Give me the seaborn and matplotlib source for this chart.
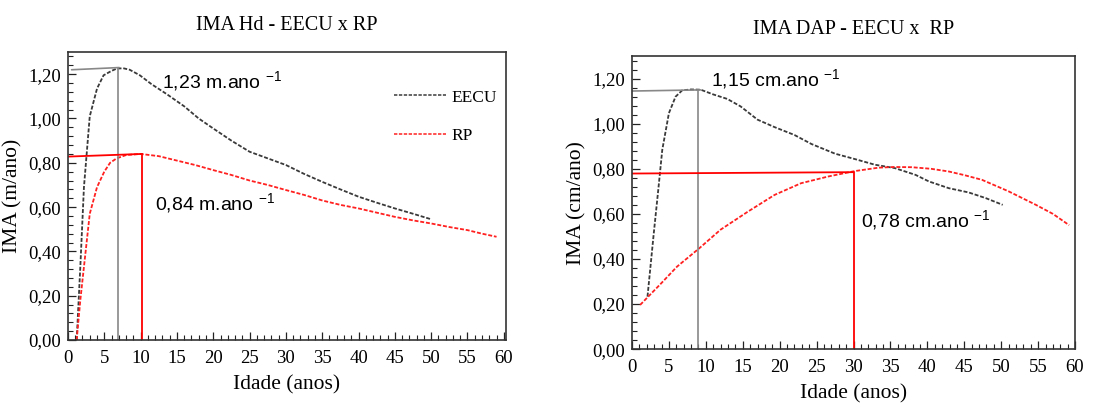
import numpy as np
import pandas as pd
import seaborn as sns
import matplotlib.pyplot as plt
from matplotlib.ticker import MultipleLocator, FixedLocator

# ---- data ----
hd_eecu_age = [1.2, 1.7, 2.2, 3.0, 4.0, 4.9, 6.0, 6.7, 7.6, 8.5, 9.9, 11.5, 13.6, 16, 18, 20, 22.5, 25, 27.5,
               30, 32.5, 35, 37.5, 40, 42.5, 45, 47.5, 50]
hd_eecu_ima = [0.00, 0.33, 0.69, 1.01, 1.135, 1.195, 1.215, 1.225, 1.227, 1.22, 1.195, 1.155, 1.11, 1.055, 1.0,
               0.955, 0.90, 0.85, 0.82, 0.79, 0.75, 0.714, 0.68, 0.647, 0.62, 0.594, 0.57, 0.545]
hd_rp_age = [1.2, 1.7, 2.2, 3.0, 4.0, 5.0, 5.8, 6.7, 8.0, 10.0, 12.5, 15, 17.5, 20, 22.5, 25, 27.5, 30, 32.5,
             35, 37.5, 40, 42.5, 45, 47.5, 50, 52.5, 55, 57, 59]
hd_rp_ima = [0.00, 0.18, 0.33, 0.57, 0.69, 0.76, 0.80, 0.82, 0.835, 0.84, 0.83, 0.81, 0.79, 0.767, 0.745, 0.72,
             0.70, 0.677, 0.655, 0.63, 0.61, 0.594, 0.575, 0.556, 0.54, 0.526, 0.51, 0.496, 0.48, 0.466]

dap_eecu_age = [2.1, 2.95, 3.6, 4.1, 5.0, 5.9, 6.8, 8.0, 9.3, 11.0, 12.9, 14.7, 17.0, 19.3, 22.0, 24.3, 27.5,
                30.2, 32.9, 35.6, 38.4, 40.2, 42.9, 45.6, 47.9, 50.2]
dap_eecu_ima = [0.233, 0.514, 0.72, 0.884, 1.047, 1.12, 1.148, 1.152, 1.151, 1.13, 1.11, 1.077, 1.018, 0.985,
                0.95, 0.91, 0.867, 0.843, 0.818, 0.803, 0.773, 0.744, 0.714, 0.695, 0.67, 0.64]
dap_rp_age = [1.1, 3.9, 6.1, 9.1, 12.0, 15.7, 19.3, 22.9, 26.6, 30.2, 33.4, 35.5, 37.9, 40.5, 42.9, 45.0, 47.4,
              51.0, 54.7, 57.0, 59.2]
dap_rp_ima = [0.196, 0.29, 0.366, 0.447, 0.53, 0.61, 0.684, 0.736, 0.766, 0.79, 0.805, 0.808, 0.807, 0.80, 0.788,
              0.772, 0.751, 0.70, 0.64, 0.60, 0.55]

# reference lines (maximum IMA)
hd_eecu_max = (6.85, 1.23)
hd_rp_max = (10.2, 0.84)
dap_eecu_max = (9.0, 1.15)
dap_rp_max = (30.0, 0.785)

titles = ["IMA Hd - EECU x RP", "IMA DAP - EECU x  RP"]
ylabels = ["IMA (m/ano)", "IMA (cm/ano)"]
xticks = [0, 5, 10, 15, 20, 25, 30, 35, 40, 45, 50, 55, 60]
yticks = [0.0, 0.2, 0.4, 0.6, 0.8, 1.0, 1.2]

sns.set_theme(style="ticks")
plt.rcParams['font.family'] = ['Liberation Serif', 'DejaVu Serif']
plt.rcParams['mathtext.fontset'] = 'custom'
plt.rcParams['mathtext.rm'] = 'Liberation Sans'
plt.rcParams['mathtext.default'] = 'regular'
plt.rcParams['text.color'] = 'black'
plt.rcParams['axes.labelcolor'] = 'black'

fig = plt.figure(figsize=(11.16, 4.05), dpi=100)
ax1 = fig.add_axes([0.0609, 0.1605, 0.3925, 0.711])
ax2 = fig.add_axes([0.5663, 0.138, 0.397, 0.7235])

black = "#3a3a3a"
red = "#ff2020"
dash = (0, (2.2, 1.0))

def style_axis(ax, title, ylabel, xlim):
    ax.set_xlim(*xlim)
    ax.set_ylim(0, 1.30)
    ax.xaxis.set_major_locator(FixedLocator(xticks))
    ax.yaxis.set_major_locator(FixedLocator(yticks))
    ax.xaxis.set_minor_locator(MultipleLocator(1))
    ax.yaxis.set_minor_locator(MultipleLocator(0.04))
    ax.set_xticklabels([str(v) for v in xticks])
    ax.set_yticklabels([f"{v:.2f}".replace(".", ",") for v in yticks])
    ax.tick_params(which="major", direction="in", length=6, width=0.9, labelsize=13.5,
                   colors="#222222", labelcolor="black")
    ax.tick_params(which="minor", direction="in", length=3.5, width=0.8, colors="#222222")
    ax.tick_params(axis="x", pad=7)
    ax.tick_params(axis="y", pad=5)
    for s in ax.spines.values():
        s.set_color("#333333")
        s.set_linewidth(1.2)
        s.set_visible(True)
    ax.set_title(title, fontsize=14.5, pad=16)
    ax.set_xlabel("Idade (anos)", fontsize=15.5, labelpad=6)
    ax.set_ylabel(ylabel, fontsize=15.5, labelpad=4)

# left panel
sns.lineplot(x=hd_eecu_age, y=hd_eecu_ima, ax=ax1, color=black, linestyle=dash, lw=1.3, label="EECU")
sns.lineplot(x=hd_rp_age, y=hd_rp_ima, ax=ax1, color=red, linestyle=dash, lw=1.3, label="RP")
ax1.plot([0.5, hd_eecu_max[0] + 0.2], [hd_eecu_max[1] - 0.01, hd_eecu_max[1]], color="#888888", lw=1.2)
ax1.plot([hd_eecu_max[0], hd_eecu_max[0]], [0, hd_eecu_max[1]], color="#888888", lw=1.2)
ax1.plot([0, hd_rp_max[0]], [hd_rp_max[1] - 0.012, hd_rp_max[1]], color="red", lw=1.3)
ax1.plot([hd_rp_max[0], hd_rp_max[0]], [0, hd_rp_max[1]], color="red", lw=1.3)
ax1.text(13.0, 1.17, "1,23 m.ano $^{-1}$", fontsize=14, family="Liberation Sans", va="center")
ax1.text(12.0, 0.617, "0,84 m.ano $^{-1}$", fontsize=14, family="Liberation Sans", va="center")
style_axis(ax1, titles[0], ylabels[0], (0, 60.3))
leg = ax1.legend(loc="center left", bbox_to_anchor=(0.745, 0.775), frameon=False, fontsize=12.5,
                 handlelength=3.0, labelspacing=1.3, handletextpad=0.3, borderpad=0, borderaxespad=0)
for ln in leg.get_lines():
    ln.set_linewidth(1.1)

# right panel
sns.lineplot(x=dap_eecu_age, y=dap_eecu_ima, ax=ax2, color=black, linestyle=dash, lw=1.3)
sns.lineplot(x=dap_rp_age, y=dap_rp_ima, ax=ax2, color=red, linestyle=dash, lw=1.3)
ax2.plot([0, dap_eecu_max[0] + 0.3], [dap_eecu_max[1] - 0.005, dap_eecu_max[1]], color="#888888", lw=1.2)
ax2.plot([dap_eecu_max[0], dap_eecu_max[0]], [0, dap_eecu_max[1]], color="#888888", lw=1.2)
ax2.plot([0, dap_rp_max[0]], [dap_rp_max[1] - 0.006, dap_rp_max[1]], color="red", lw=1.3)
ax2.plot([dap_rp_max[0] + 0.1, dap_rp_max[0] + 0.1], [0, dap_rp_max[1]], color="red", lw=1.3)
ax2.text(10.7, 1.196, "1,15 cm.ano $^{-1}$", fontsize=14, family="Liberation Sans", va="center")
ax2.text(31.0, 0.573, "0,78 cm.ano $^{-1}$", fontsize=14, family="Liberation Sans", va="center")
style_axis(ax2, titles[1], ylabels[1], (0, 60.0))

fig.savefig("out.png", dpi=100)
